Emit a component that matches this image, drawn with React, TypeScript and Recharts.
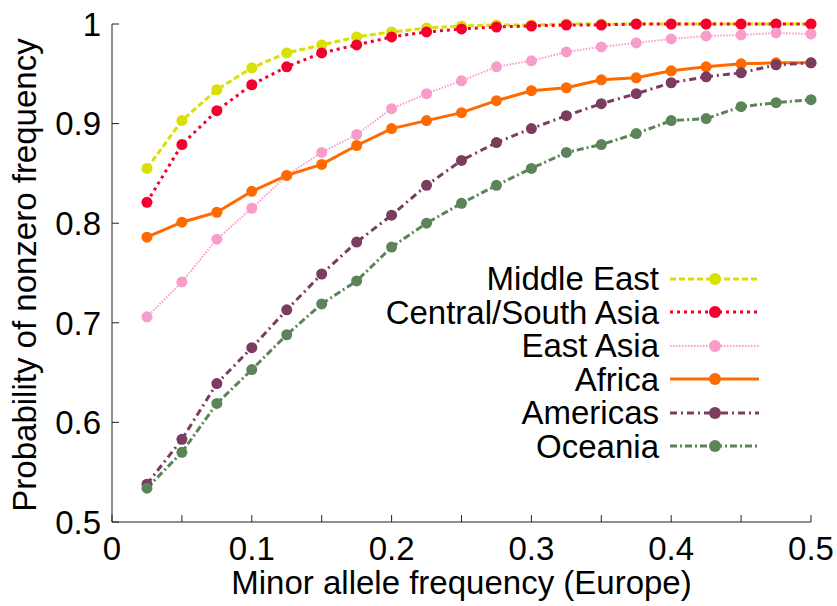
import React from 'react';
import { LineChart, Line, XAxis, YAxis, Legend, Label } from 'recharts';

const maf = [
  0.025, 0.05, 0.075, 0.1, 0.125, 0.15, 0.175, 0.2, 0.225, 0.25,
  0.275, 0.3, 0.325, 0.35, 0.375, 0.4, 0.425, 0.45, 0.475, 0.5,
];

const middleEast = [0.855, 0.903, 0.934, 0.956, 0.971, 0.979, 0.987, 0.992, 0.996, 0.998, 0.999, 0.999, 1, 1, 1, 1, 1, 1, 1, 1];
const centralSouthAsia = [0.821, 0.879, 0.913, 0.939, 0.957, 0.971, 0.979, 0.987, 0.992, 0.995, 0.997, 0.998, 0.999, 0.999, 1, 1, 1, 1, 1, 1];
const eastAsia = [0.706, 0.741, 0.784, 0.815, 0.848, 0.871, 0.889, 0.915, 0.93, 0.943, 0.957, 0.963, 0.972, 0.977, 0.981, 0.985, 0.988, 0.989, 0.991, 0.99];
const africa = [0.786, 0.801, 0.811, 0.832, 0.848, 0.859, 0.878, 0.895, 0.903, 0.911, 0.923, 0.933, 0.936, 0.944, 0.946, 0.953, 0.957, 0.96, 0.961, 0.961];
const americas = [0.538, 0.583, 0.639, 0.675, 0.713, 0.749, 0.781, 0.808, 0.838, 0.863, 0.881, 0.895, 0.908, 0.92, 0.93, 0.941, 0.947, 0.951, 0.959, 0.961];
const oceania = [0.534, 0.57, 0.619, 0.653, 0.688, 0.719, 0.742, 0.776, 0.8, 0.82, 0.838, 0.855, 0.871, 0.879, 0.89, 0.903, 0.905, 0.917, 0.921, 0.924];

const xTicks = [0, 0.05, 0.1, 0.15, 0.2, 0.25, 0.3, 0.35, 0.4, 0.45, 0.5];
const yTicks = [0.5, 0.6, 0.7, 0.8, 0.9, 1];

const series = [
  { key: 'me', name: 'Middle East', values: middleEast, color: '#d9e004', dash: '6 3', width: 3 },
  { key: 'csa', name: 'Central/South Asia', values: centralSouthAsia, color: '#f5002e', dash: '3 4', width: 3 },
  { key: 'ea', name: 'East Asia', values: eastAsia, color: '#f89cc9', dash: '1.5 1.5', width: 2 },
  { key: 'af', name: 'Africa', values: africa, color: '#ff6a00', dash: undefined, width: 3 },
  { key: 'am', name: 'Americas', values: americas, color: '#7a3c5f', dash: '7 4 2 4', width: 3 },
  { key: 'oc', name: 'Oceania', values: oceania, color: '#5b8459', dash: '7 3 2 3', width: 3 },
];

const data = maf.map((x, i) => {
  const row: Record<string, number> = { x };
  series.forEach((s) => (row[s.key] = s.values[i]));
  return row;
});

const font = '"Liberation Sans", Arial, sans-serif';
const fs = 33;
const axisColor = '#222';

function LegendBox() {
  return (
    <div style={{ fontFamily: font, fontSize: fs, color: '#000' }}>
      {series.map((s) => (
        <div key={s.key} style={{ display: 'flex', alignItems: 'center', height: 33.5, justifyContent: 'flex-end' }}>
          <span style={{ lineHeight: '33.5px', whiteSpace: 'nowrap' }}>{s.name}</span>
          <svg width={100} height={20} style={{ marginLeft: 11 }}>
            <line x1={0} y1={10} x2={89} y2={10} stroke={s.color} strokeWidth={s.width} strokeDasharray={s.dash} />
            <circle cx={45} cy={10} r={6} fill={s.color} />
          </svg>
        </div>
      ))}
    </div>
  );
}

const fmtX = (v: number) => {
  const r = Math.round(v * 100);
  return r % 10 === 0 ? String(r / 100) : '';
};

export default function App() {
  return (
    <div style={{ position: 'absolute', left: 0, top: 0, background: '#fff', fontFamily: font }}>
      <LineChart width={837} height={606} data={data} margin={{ top: 24, right: 26, bottom: 0, left: 0 }}>
        <XAxis
          dataKey="x"
          type="number"
          domain={[0, 0.5]}
          ticks={xTicks}
          tickFormatter={fmtX}
          height={84}
          tickSize={-7}
          tickMargin={22}
          stroke={axisColor}
          tick={{ fill: '#000', fontSize: fs, fontFamily: font }}
          interval={0}
        >
          <Label
            content={() => (
              <text x={461.5} y={594} textAnchor="middle" fontSize={fs} fontFamily={font} fill="#000">
                Minor allele frequency (Europe)
              </text>
            )}
          />
        </XAxis>
        <XAxis
          xAxisId="top"
          dataKey="x"
          type="number"
          orientation="top"
          domain={[0, 0.5]}
          ticks={xTicks}
          height={0}
          tickSize={-7}
          tick={false}
          stroke={axisColor}
          interval={0}
        />
        <YAxis
          type="number"
          domain={[0.5, 1]}
          ticks={yTicks}
          width={112}
          tickSize={-7}
          tickMargin={18}
          stroke={axisColor}
          tick={{ fill: '#000', fontSize: fs, fontFamily: font }}
          interval={0}
        >
          <Label
            content={() => (
              <text
                x={36}
                y={275}
                transform="rotate(-90, 36, 275)"
                textAnchor="middle"
                fontSize={fs}
                fontFamily={font}
                fill="#000"
              >
                Probability of nonzero frequency
              </text>
            )}
          />
        </YAxis>
        <YAxis
          yAxisId="right"
          type="number"
          orientation="right"
          domain={[0.5, 1]}
          ticks={yTicks}
          width={0}
          tickSize={-7}
          tick={false}
          stroke={axisColor}
          interval={0}
        />
        <Legend
          layout="vertical"
          align="center"
          verticalAlign="middle"
          content={() => <LegendBox />}
          wrapperStyle={{ position: 'absolute', left: 310, top: 262, width: 460 }}
        />
        {series.map((s) => (
          <Line
            key={s.key}
            dataKey={s.key}
            name={s.name}
            stroke={s.color}
            strokeWidth={s.width}
            strokeDasharray={s.dash}
            dot={{ r: 5.5, fill: s.color, stroke: 'none' }}
            activeDot={false}
            isAnimationActive={false}
          />
        ))}
      </LineChart>
    </div>
  );
}
